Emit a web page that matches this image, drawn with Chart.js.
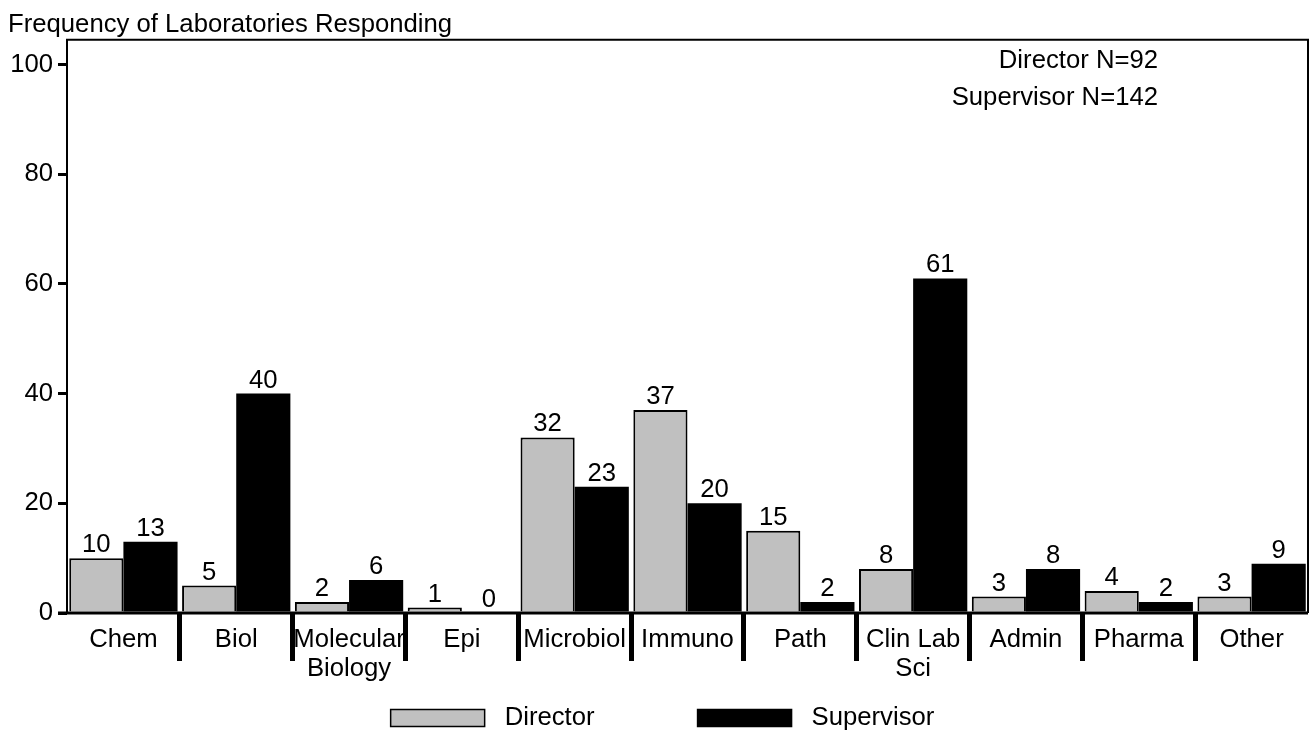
<!DOCTYPE html>
<html>
<head>
<meta charset="utf-8">
<script src="https://cdn.jsdelivr.net/npm/chart.js@4"></script>
<style>
  body { margin: 0; background: #fff; }
  #wrap { width: 1313px; height: 730px; position: relative; }
</style>
</head>
<body>
<div id="wrap"><canvas id="c"></canvas></div>
<script>
// Categories and counts
const categories = ['Chem', 'Biol', ['Molecular', 'Biology'], 'Epi', 'Microbiol', 'Immuno',
                    'Path', ['Clin Lab', 'Sci'], 'Admin', 'Pharma', 'Other'];
const directorCounts   = [10, 5, 2, 1, 32, 37, 15, 8, 3, 4, 3];
const supervisorCounts = [13, 40, 6, 0, 23, 20, 2, 61, 8, 2, 9];
const sampleNotes = ['Director N=92', 'Supervisor N=142'];
const yTitle = 'Frequency of Laboratories Responding';

const FONT = "'Liberation Sans', Arial, sans-serif";
const FS = 25.7;
Chart.defaults.font.family = FONT;
Chart.defaults.font.size = FS;
Chart.defaults.color = '#000';

// Box round the plot, value labels, sample sizes and the key at the bottom
const extras = {
  id: 'extras',
  afterDatasetsDraw(chart) {
    const { ctx, chartArea: a } = chart;
    ctx.save();

    // frame (left/top/right thin, baseline heavier)
    ctx.strokeStyle = '#000';
    ctx.lineWidth = 2;
    ctx.beginPath();
    ctx.moveTo(a.left, a.bottom);
    ctx.lineTo(a.left, a.top);
    ctx.lineTo(a.right, a.top);
    ctx.lineTo(a.right, a.bottom);
    ctx.stroke();
    ctx.lineWidth = 3;
    ctx.beginPath();
    ctx.moveTo(a.left - 9, a.bottom);
    ctx.lineTo(a.right, a.bottom);
    ctx.stroke();

    // numbers above bars
    ctx.font = FS + 'px ' + FONT;
    ctx.fillStyle = '#000';
    ctx.textAlign = 'center';
    ctx.textBaseline = 'alphabetic';
    chart.data.datasets.forEach((ds, di) => {
      chart.getDatasetMeta(di).data.forEach((bar, i) => {
        ctx.fillText(String(ds.data[i]), bar.x, bar.y - 6);
      });
    });

    // N notes, top right
    ctx.textAlign = 'right';
    ctx.fillText(sampleNotes[0], a.right - 150, a.top + 28);
    ctx.fillText(sampleNotes[1], a.right - 150, a.top + 65);

    // key
    const boxW = 94, boxH = 17, gapText = 20, gapItem = 103;
    const items = chart.data.datasets.map(ds => ({
      label: ds.label, fill: ds.backgroundColor, w: ctx.measureText(ds.label).width
    }));
    let total = 0;
    items.forEach((it, i) => { total += boxW + gapText + it.w + (i ? gapItem : 0); });
    let x = chart.width / 2 + 6 - total / 2;
    const cy = 718;
    ctx.textAlign = 'left';
    ctx.textBaseline = 'middle';
    items.forEach(it => {
      ctx.fillStyle = it.fill;
      ctx.fillRect(x, cy - boxH / 2, boxW, boxH);
      ctx.lineWidth = 1.5;
      ctx.strokeStyle = '#000';
      ctx.strokeRect(x, cy - boxH / 2, boxW, boxH);
      ctx.fillStyle = '#000';
      ctx.fillText(it.label, x + boxW + gapText, cy);
      x += boxW + gapText + it.w + gapItem;
    });
    ctx.restore();
  }
};

new Chart(document.getElementById('c'), {
  type: 'bar',
  data: {
    labels: categories,
    datasets: [
      {
        label: 'Director',
        data: directorCounts,
        backgroundColor: '#c0c0c0',
        borderColor: '#000',
        borderWidth: 2,
        categoryPercentage: 0.96,
        barPercentage: 1
      },
      {
        label: 'Supervisor',
        data: supervisorCounts,
        backgroundColor: '#000',
        borderWidth: 0,
        categoryPercentage: 0.96,
        barPercentage: 1
      }
    ]
  },
  options: {
    responsive: true,
    maintainAspectRatio: false,
    animation: false,
    layout: { padding: { left: 8, right: 5, top: 0, bottom: 0 } },
    plugins: {
      legend: { display: false },
      tooltip: { enabled: false },
      title: {
        display: true,
        text: yTitle,
        align: 'start',
        font: { size: FS, weight: 'normal' },
        padding: { top: 9, bottom: 0 }
      }
    },
    scales: {
      x: {
        border: { display: false },
        grid: {
          offset: true,
          drawOnChartArea: false,
          tickLength: 48,
          color: '#000',
          // separators only between categories, not at the ends
          lineWidth: ctx => (ctx.index > 0 ? 5 : 0)
        },
        ticks: { padding: -36, maxRotation: 0, autoSkip: false, font: { size: FS, lineHeight: 1.15 } },
        afterFit: s => { s.height = 117; }
      },
      y: {
        min: 0,
        max: 104.5,
        border: { display: false },
        grid: { drawOnChartArea: false, tickLength: 9, color: '#000', lineWidth: 3 },
        ticks: { stepSize: 20, includeBounds: false, padding: 5, font: { size: FS } },
        afterFit: s => { s.width = 59; }
      }
    }
  },
  plugins: [extras]
});
</script>
</body>
</html>
